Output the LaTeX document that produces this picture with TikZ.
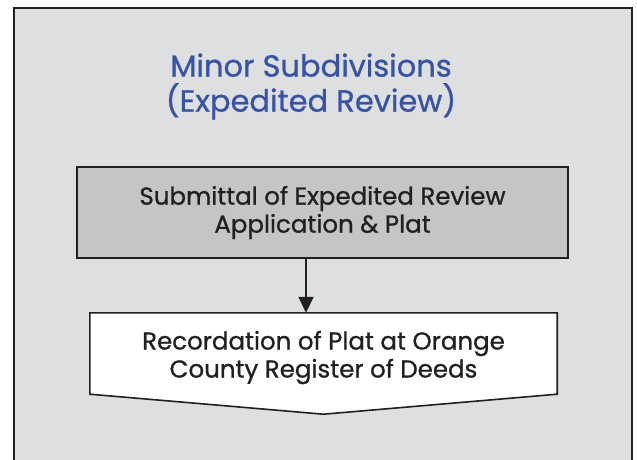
\documentclass[tikz,border=0pt]{standalone}
\usepackage{fontspec}
\setmainfont{Poppins}[FakeBold=0.9]
\usetikzlibrary{arrows.meta}

\definecolor{panelgray}{HTML}{DEDFE1}
\definecolor{boxgray}{HTML}{C4C5C7}
\definecolor{titleblue}{HTML}{3953A4}
\definecolor{inkblack}{HTML}{231F20}

\tikzset{
	stepbox/.style={rectangle,minimum width=491,minimum height=91,inner sep=0pt,align=center,text=inkblack,font=\fontsize{24.5}{28}\selectfont},
	edge/.style={draw=inkblack,line width=1.6pt}
}

\begin{document}
\begin{tikzpicture}[x=1pt,y=-1pt]
		\useasboundingbox (0,0) rectangle (637,460);
		
		\draw[fill=panelgray,draw=inkblack,line width=2pt] (14,8) rectangle (632,490);
		
		\node[align=center,text=titleblue,font=\fontsize{30.5}{35}\selectfont] (title) at (311,86.5){Minor Subdivisions\\(Expedited Review)};
		
		\node[stepbox,fill=boxgray,edge] (submit) at (322.5,212.5){Submittal of Expedited Review\\Application \& Plat};
		
		\node[stepbox,minimum width=467,minimum height=81] (record) at (323.5,353.5){};
		\draw[edge,fill=white] (record.north west) -- (record.north east) -- (record.south east) -- ([yshift=-20]record.south) -- (record.south west) -- cycle;
		\node[stepbox,minimum width=467,minimum height=81] (recordtext) at ([yshift=-4]record.center){Recordation of Plat at Orange\\County Register of Deeds};
		
		\draw[edge,-{Triangle[width=15pt,length=16pt]}] ([xshift=-16.5]submit.south) -- ([xshift=-16.5]submit.south |- record.north);
	\end{tikzpicture}
\end{document}
